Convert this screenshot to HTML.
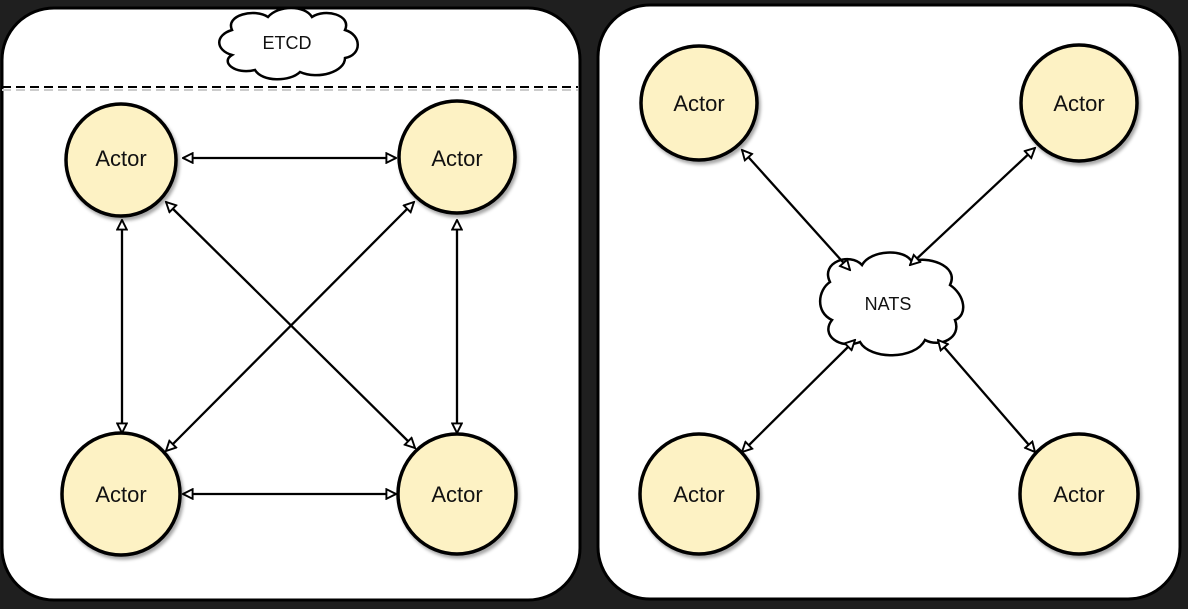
<!DOCTYPE html>
<html><head><style>
html,body{margin:0;padding:0;background:#1f1f1f;}
svg{display:block}
text{font-family:"Liberation Sans",sans-serif;fill:#111}
</style></head><body>
<svg width="1188" height="609" viewBox="0 0 1188 609">
<defs>
<marker id="a" viewBox="0 0 10 10" refX="9" refY="5" markerWidth="12" markerHeight="12" orient="auto-start-reverse" markerUnits="userSpaceOnUse">
<path d="M1,1 L9,5 L1,9 Z" fill="#fff" stroke="#000" stroke-width="1.6"/>
</marker>
<filter id="sh"><feDropShadow dx="2" dy="3" stdDeviation="1.5" flood-color="#000" flood-opacity="0.35"/></filter>
</defs>
<rect x="0" y="0" width="1188" height="609" fill="#1f1f1f"/>
<rect x="2" y="8" width="578" height="592" rx="52" fill="#fff" stroke="#000" stroke-width="3"/>
<rect x="598" y="5" width="582" height="594" rx="52" fill="#fff" stroke="#000" stroke-width="3"/>
<line x1="2" y1="90" x2="578" y2="90" stroke="#ccc" stroke-width="2" stroke-dasharray="9,5"/>
<line x1="2" y1="87" x2="578" y2="87" stroke="#000" stroke-width="2" stroke-dasharray="9,5"/>
<path d="M232,30 C225,15 255,8 268,17 C278,5 305,5 312,17 C325,8 352,15 345,30 C362,35 362,55 345,58 C345,72 318,80 300,72 C290,82 262,82 255,70 C235,75 220,62 232,55 C215,50 215,35 232,30 Z" fill="#fff" stroke="#000" stroke-width="2.5"/>
<text x="287" y="49" font-size="18" text-anchor="middle">ETCD</text>
<path d="M830,282 C820,262 850,252 862,265 C870,250 905,248 912,262 C925,255 960,265 950,285 C965,295 968,315 955,320 C962,338 940,348 925,340 C915,360 870,360 860,342 C840,350 820,335 832,320 C815,312 818,290 830,282 Z" fill="#fff" stroke="#000" stroke-width="2.5"/>
<text x="888" y="310" font-size="18" text-anchor="middle">NATS</text>
<g stroke="#000" stroke-width="2.3" fill="none" marker-start="url(#a)" marker-end="url(#a)">
<line x1="183" y1="158" x2="396" y2="158"/>
<line x1="183" y1="494" x2="396" y2="494"/>
<line x1="122" y1="220" x2="122" y2="433"/>
<line x1="457" y1="220" x2="457" y2="433"/>
<line x1="166" y1="202" x2="415" y2="448"/>
<line x1="414" y1="202" x2="166" y2="451"/>
<line x1="742" y1="150" x2="850" y2="270"/>
<line x1="1035" y1="148" x2="910" y2="265"/>
<line x1="855" y1="340" x2="742" y2="452"/>
<line x1="938" y1="340" x2="1035" y2="452"/>
</g>
<g fill="#fdf2c4" stroke="#000" stroke-width="3.5" filter="url(#sh)">
<ellipse cx="121" cy="160" rx="55" ry="56"/>
<ellipse cx="457" cy="157" rx="58" ry="56"/>
<ellipse cx="121" cy="494" rx="59" ry="61"/>
<ellipse cx="457" cy="494" rx="59" ry="60"/>
<ellipse cx="699" cy="103" rx="58" ry="57"/>
<ellipse cx="1079" cy="103" rx="58" ry="58"/>
<ellipse cx="699" cy="494" rx="59" ry="60"/>
<ellipse cx="1079" cy="494" rx="59" ry="60"/>
</g>
<g font-size="22" text-anchor="middle">
<text x="121" y="166">Actor</text>
<text x="457" y="166">Actor</text>
<text x="121" y="502">Actor</text>
<text x="457" y="502">Actor</text>
<text x="699" y="111">Actor</text>
<text x="1079" y="111">Actor</text>
<text x="699" y="502">Actor</text>
<text x="1079" y="502">Actor</text>
</g>
</svg>
</body></html>
